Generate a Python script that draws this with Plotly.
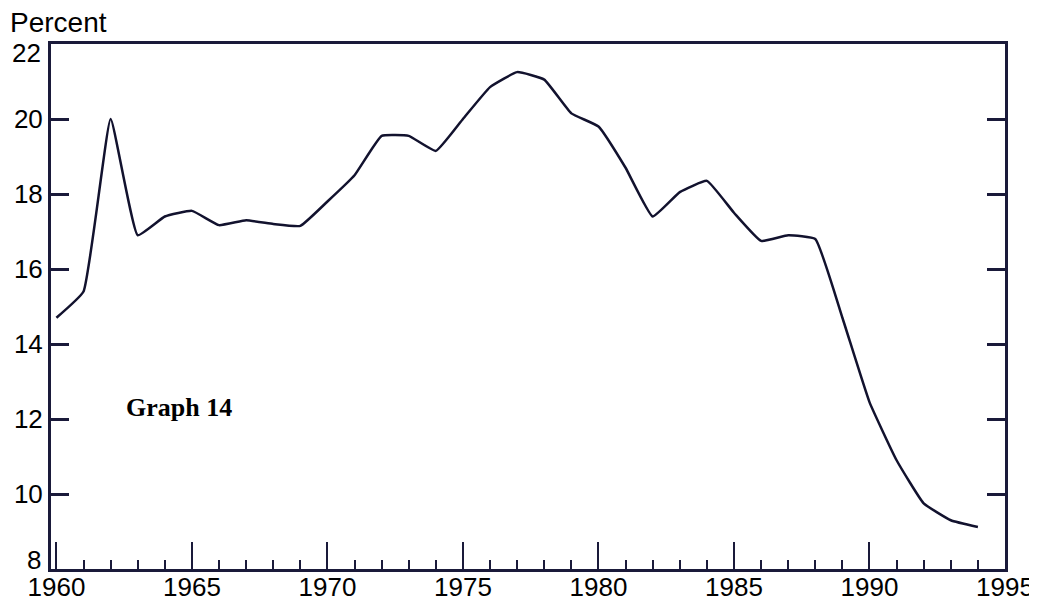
import plotly.graph_objects as go

years = list(range(1960, 1995))
percent = [14.7, 15.4, 20.0, 16.9, 17.4, 17.55, 17.17, 17.3, 17.2, 17.15,
           17.8, 18.5, 19.55, 19.55, 19.15, 20.0, 20.85, 21.25, 21.05, 20.15,
           19.8, 18.7, 17.4, 18.05, 18.35, 17.5, 16.75, 16.9, 16.8, 14.7,
           12.45, 10.9, 9.75, 9.3, 9.12]
y_ticks = [8, 10, 12, 14, 16, 18, 20, 22]
x_ticks = [1960, 1965, 1970, 1975, 1980, 1985, 1990, 1995]

fig = go.Figure()
fig.add_trace(go.Scatter(
    x=years, y=percent, mode="lines",
    line=dict(color="#12122e", width=2.5, shape="spline", smoothing=0.35),
    hoverinfo="skip", showlegend=False,
))

axis_color = "#1a1a3a"
font_family = "Liberation Sans, Arial, sans-serif"
# end labels (22 and 8) sit inward of their ticks, as in the original
y_text = ["" if v in (y_ticks[0], y_ticks[-1]) else str(v) for v in y_ticks]

fig.update_layout(
    width=1029, height=594,
    margin=dict(l=43, r=32, t=36, b=33, autoexpand=False),
    paper_bgcolor="white", plot_bgcolor="white",
    font=dict(family=font_family, size=26, color="black"),
    xaxis=dict(
        range=[1959.8, 1995], tickvals=x_ticks, ticktext=[str(v) for v in x_ticks],
        ticks="inside", ticklen=27, tickwidth=2, tickcolor=axis_color,
        showline=True, linewidth=3, linecolor=axis_color, mirror=True,
        showgrid=False, zeroline=False, automargin=False,
        minor=dict(dtick=1, tick0=1960, ticks="inside", ticklen=9, tickwidth=2,
                   tickcolor=axis_color, showgrid=False),
        tickfont=dict(size=26), ticklabelstandoff=-7,
    ),
    yaxis=dict(
        range=[8, 22], tickvals=y_ticks, ticktext=y_text,
        ticks="inside", ticklen=18, tickwidth=3, tickcolor=axis_color,
        showline=True, linewidth=3, linecolor=axis_color, mirror="ticks",
        showgrid=False, zeroline=False, automargin=False, ticklabelstandoff=0,
        tickfont=dict(size=26),
    ),
    annotations=[
        dict(text="Percent", xref="paper", yref="paper", x=-0.045, y=1.0,
             xanchor="left", yanchor="middle", yshift=22, showarrow=False,
             font=dict(size=28, family=font_family)),
        dict(text=str(y_ticks[-1]), xref="paper", yref="y", x=0, y=y_ticks[-1],
             xanchor="right", yanchor="middle", xshift=-8, yshift=-9, showarrow=False,
             font=dict(size=26, family=font_family)),
        dict(text=str(y_ticks[0]), xref="paper", yref="y", x=0, y=y_ticks[0],
             xanchor="right", yanchor="middle", xshift=-8, yshift=9, showarrow=False,
             font=dict(size=26, family=font_family)),
        dict(text="<b>Graph 14</b>", xref="x", yref="y", x=1962.5, y=12.3,
             xanchor="left", yanchor="middle", showarrow=False,
             font=dict(size=26, family="Liberation Serif, Times New Roman, serif")),
    ],
)

fig.write_html("out.html")
